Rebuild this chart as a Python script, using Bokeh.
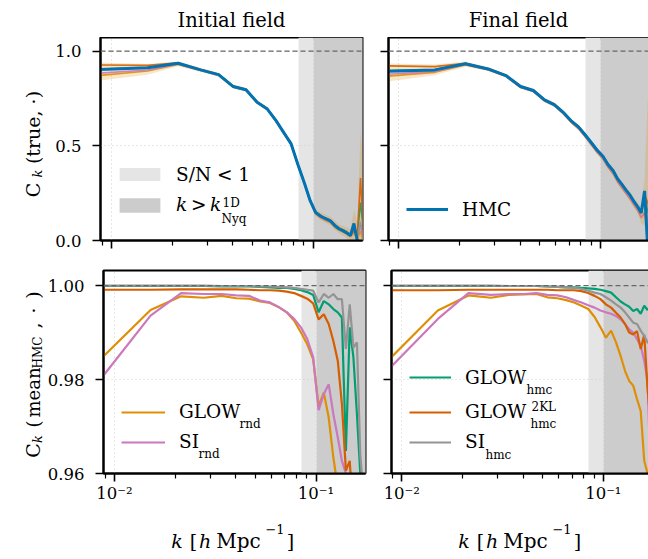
import math
from bokeh.plotting import figure
from bokeh.models import (Range1d, FixedTicker, PrintfTickFormatter, CustomJSTickFormatter,
                          Label, Span, Legend, LegendItem)
from bokeh.layouts import column, row
from bokeh.embed import file_html
from bokeh.resources import INLINE

FONT = "DejaVu Serif"

# ---------------- data ----------------
k = [0.0088, 0.0151, 0.0214, 0.0277, 0.0340, 0.0402, 0.0465, 0.0528, 0.0591, 0.0654,
     0.0716, 0.0779, 0.0842, 0.0905, 0.0968, 0.1030, 0.1093, 0.1156, 0.1219, 0.1282,
     0.1344, 0.1407, 0.1470, 0.1533, 0.1596, 0.1658, 0.1721, 0.1784]

k_sn = 0.0846    # S/N < 1 boundary
k_nyq = 0.1      # 1D Nyquist

# top-left: C_k(true, .) initial field
hmc_tl = [0.903, 0.912, 0.936, 0.901, 0.876, 0.813, 0.796, 0.730, 0.696, 0.634, 0.570, 0.510, 0.400, 0.305,
          0.210, 0.148, 0.128, 0.115, 0.104, 0.080, 0.062, 0.052, 0.040, 0.026, 0.090, 0.000, -0.010, -0.010]
glow_rnd_tl = [0.872, 0.895, 0.930, 0.898, 0.872, 0.810, 0.793, 0.727, 0.693, 0.630, 0.566, 0.505, 0.396, 0.300,
               0.205, 0.140, 0.118, 0.105, 0.095, 0.070, 0.055, 0.045, 0.035, 0.020, 0.040, 0.010, 0.050, -0.010]
si_rnd_tl = [0.884, 0.900, 0.932, 0.899, 0.874, 0.811, 0.794, 0.728, 0.694, 0.632, 0.568, 0.507, 0.398, 0.302,
             0.207, 0.143, 0.122, 0.108, 0.098, 0.074, 0.058, 0.048, 0.037, 0.022, 0.050, 0.020, 0.080, 0.000]
glow_hmc_tl = [0.906, 0.913, 0.936, 0.902, 0.877, 0.814, 0.797, 0.731, 0.697, 0.635, 0.571, 0.511, 0.401, 0.306,
               0.211, 0.150, 0.130, 0.117, 0.106, 0.082, 0.065, 0.056, 0.045, 0.032, 0.060, 0.030, 0.200, 0.050]
glow2kl_tl = [0.927, 0.925, 0.938, 0.903, 0.878, 0.815, 0.798, 0.732, 0.698, 0.636, 0.572, 0.512, 0.402, 0.307,
              0.212, 0.151, 0.131, 0.118, 0.107, 0.084, 0.066, 0.057, 0.046, 0.030, 0.050, 0.020, 0.330, 0.000]
si_hmc_tl = [0.905, 0.912, 0.936, 0.902, 0.877, 0.814, 0.797, 0.731, 0.697, 0.635, 0.571, 0.511, 0.401, 0.306,
             0.211, 0.150, 0.129, 0.116, 0.105, 0.082, 0.064, 0.054, 0.043, 0.030, 0.070, 0.020, 0.100, 0.000]
band_lo_tl = [0.845, 0.875, 0.920, 0.890, 0.866, 0.803, 0.786, 0.720, 0.686, 0.624, 0.560, 0.498, 0.388, 0.292,
              0.198, 0.130, 0.108, 0.093, 0.080, 0.055, 0.040, 0.025, 0.012, -0.010, 0.000, -0.050, -0.050, -0.050]
band_hi_tl = [0.940, 0.932, 0.945, 0.912, 0.886, 0.823, 0.806, 0.740, 0.706, 0.644, 0.580, 0.520, 0.410, 0.315,
              0.222, 0.165, 0.148, 0.135, 0.125, 0.105, 0.085, 0.078, 0.070, 0.060, 0.160, 0.100, 0.570, 0.400]

# top-right: C_k(true, .) final field
hmc_tr = [0.894, 0.901, 0.933, 0.906, 0.871, 0.813, 0.792, 0.743, 0.718, 0.677, 0.632, 0.600, 0.557, 0.515,
          0.475, 0.445, 0.400, 0.370, 0.325, 0.295, 0.265, 0.238, 0.205, 0.178, 0.145, 0.262, -0.050, -0.050]
glow_rnd_tr = [0.868, 0.888, 0.927, 0.902, 0.867, 0.808, 0.787, 0.737, 0.712, 0.670, 0.624, 0.590, 0.546, 0.503,
               0.462, 0.430, 0.385, 0.353, 0.308, 0.276, 0.247, 0.218, 0.186, 0.157, 0.120, 0.150, 0.100, 0.050]
si_rnd_tr = [0.878, 0.893, 0.929, 0.903, 0.868, 0.809, 0.788, 0.738, 0.713, 0.672, 0.626, 0.593, 0.549, 0.506,
             0.465, 0.434, 0.389, 0.357, 0.312, 0.280, 0.250, 0.222, 0.190, 0.162, 0.125, 0.140, 0.050, 0.000]
glow_hmc_tr = [0.897, 0.903, 0.934, 0.907, 0.872, 0.814, 0.793, 0.744, 0.719, 0.678, 0.633, 0.601, 0.558, 0.516,
               0.476, 0.446, 0.402, 0.372, 0.327, 0.297, 0.268, 0.240, 0.208, 0.180, 0.150, 0.230, 0.150, 0.100]
glow2kl_tr = [0.922, 0.918, 0.936, 0.908, 0.873, 0.815, 0.794, 0.745, 0.720, 0.679, 0.634, 0.602, 0.559, 0.517,
              0.477, 0.447, 0.403, 0.372, 0.327, 0.297, 0.267, 0.239, 0.206, 0.179, 0.148, 0.240, 0.200, 0.100]
si_hmc_tr = [0.896, 0.902, 0.934, 0.907, 0.872, 0.814, 0.793, 0.744, 0.719, 0.678, 0.633, 0.601, 0.558, 0.516,
             0.476, 0.446, 0.401, 0.371, 0.326, 0.296, 0.266, 0.239, 0.206, 0.179, 0.147, 0.230, 0.100, 0.000]
band_lo_tr = [0.840, 0.872, 0.918, 0.895, 0.860, 0.802, 0.781, 0.732, 0.706, 0.664, 0.618, 0.584, 0.540, 0.497,
              0.455, 0.424, 0.378, 0.346, 0.300, 0.268, 0.238, 0.208, 0.175, 0.145, 0.090, 0.080, -0.050, -0.050]
band_hi_tr = [0.935, 0.930, 0.945, 0.916, 0.882, 0.824, 0.803, 0.754, 0.729, 0.689, 0.644, 0.612, 0.570, 0.528,
              0.488, 0.458, 0.414, 0.384, 0.340, 0.310, 0.282, 0.256, 0.224, 0.198, 0.180, 0.330, 0.750, 0.750]

# bottom-left: C_k(mean_HMC, .) initial field
glow_rnd_bl = [0.9849, 0.9948, 0.9977, 0.9974, 0.9978, 0.9973, 0.9972, 0.9966, 0.9963, 0.9954, 0.9943, 0.9925,
               0.9900, 0.9875, 0.9843, 0.9744, 0.9772, 0.9719, 0.9634, 0.9570, 0.9550, 0.9540, 0.9530, 0.9520,
               0.9510, 0.9500, 0.9500, 0.9500]
si_rnd_bl = [0.9808, 0.9936, 0.9984, 0.9982, 0.9982, 0.9979, 0.9978, 0.9968, 0.9964, 0.9954, 0.9943, 0.9929,
             0.9911, 0.9886, 0.9847, 0.9735, 0.9769, 0.9790, 0.9726, 0.9677, 0.9627, 0.9600, 0.9560, 0.9550,
             0.9540, 0.9530, 0.9520, 0.9520]
glow_hmc_bl = [0.9999, 0.9999, 0.9999, 0.9999, 0.9998, 0.9998, 0.9998, 0.9997, 0.9996, 0.9995, 0.9995, 0.9993,
               0.9990, 0.9986, 0.9980, 0.9943, 0.9967, 0.9960, 0.9950, 0.9943, 0.9932, 0.9648, 0.9911, 0.9847,
               0.9726, 0.9600, 0.9500, 0.9500]
glow2kl_bl = [0.9991, 0.9991, 0.9992, 0.9992, 0.9992, 0.9992, 0.9991, 0.9990, 0.9990, 0.9989, 0.9987, 0.9984,
              0.9978, 0.9972, 0.9962, 0.9928, 0.9939, 0.9918, 0.9882, 0.9840, 0.9748, 0.9606, 0.9627, 0.9500,
              0.9500, 0.9500, 0.9500, 0.9500]
si_hmc_bl = [1.0000, 1.0000, 1.0000, 1.0000, 0.9999, 0.9999, 0.9999, 0.9998, 0.9998, 0.9997, 0.9996, 0.9995,
             0.9993, 0.9991, 0.9989, 0.9964, 0.9982, 0.9974, 0.9982, 0.9971, 0.9971, 0.9865, 0.9960, 0.9868,
             0.9879, 0.9641, 0.9550, 0.9500]

# bottom-right: C_k(mean_HMC, .) final field
glow_rnd_br = [0.9846, 0.9947, 0.9979, 0.9974, 0.9980, 0.9981, 0.9982, 0.9975, 0.9973, 0.9969, 0.9964, 0.9957,
               0.9950, 0.9933, 0.9911, 0.9889, 0.9904, 0.9879, 0.9850, 0.9818, 0.9797, 0.9787, 0.9758, 0.9733,
               0.9627, 0.9600, 0.9550, 0.9500]
si_rnd_br = [0.9826, 0.9929, 0.9984, 0.9980, 0.9982, 0.9982, 0.9984, 0.9980, 0.9979, 0.9975, 0.9969, 0.9964,
             0.9958, 0.9953, 0.9947, 0.9943, 0.9940, 0.9935, 0.9928, 0.9918, 0.9907, 0.9900, 0.9886, 0.9872,
             0.9840, 0.9797, 0.9580, 0.9550]
glow_hmc_br = [0.9999, 0.9999, 0.9999, 0.9999, 0.9999, 0.9999, 0.9999, 0.9998, 0.9997, 0.9996, 0.9996, 0.9995,
               0.9994, 0.9993, 0.9991, 0.9988, 0.9985, 0.9975, 0.9966, 0.9960, 0.9955, 0.9946, 0.9950, 0.9940,
               0.9957, 0.9948, 0.9958, 0.9960]
glow2kl_br = [0.9990, 0.9990, 0.9991, 0.9991, 0.9991, 0.9991, 0.9991, 0.9991, 0.9990, 0.9990, 0.9990, 0.9988,
              0.9984, 0.9978, 0.9971, 0.9960, 0.9953, 0.9942, 0.9932, 0.9918, 0.9900, 0.9896, 0.9903, 0.9865,
              0.9895, 0.9780, 0.9700, 0.9650]
si_hmc_br = [1.0000, 1.0000, 1.0000, 1.0000, 0.9999, 0.9999, 0.9999, 0.9998, 0.9997, 0.9996, 0.9995, 0.9993,
             0.9989, 0.9985, 0.9982, 0.9975, 0.9968, 0.9960, 0.9953, 0.9943, 0.9932, 0.9921, 0.9918, 0.9904,
             0.9893, 0.9879, 0.9875, 0.9870]

x_major = [0.01, 0.1]
x_minor = [0.009, 0.02, 0.03, 0.04, 0.05, 0.06, 0.07, 0.08, 0.09, 0.2]
y_top_ticks = [0.0, 0.5, 1.0]
y_bot_ticks = [0.96, 0.98, 1.00]

C_BLUE = "#0173B2"
C_ORANGE = "#DE8F05"
C_GREEN = "#029E73"
C_RED = "#D55E00"
C_PINK = "#CC78BC"
C_GRAY = "#949494"
C_SN = "#e5e5e5"
C_NYQ = "#cccccc"

# ---------------- geometry (page pixels) ----------------
FW_L, FW_R, FH = 262, 260, 203
YLAB_W = 44
TITLE_H = 37
XLAB_H = 46
TOP_ROW_H = 218
BOT_ROW_H = 258
TL = (100, 240)
TR = (388, 240)
BL = (100, 473)
BR = (388, 473)

SUP = CustomJSTickFormatter(code="""
const e = Math.round(Math.log10(tick));
const m = {"-": "\u207b", "0": "\u2070", "1": "\u00b9", "2": "\u00b2", "3": "\u00b3"};
let s = "";
for (const c of String(e)) { s += m[c]; }
return "10" + s;
""")


def hide_labels(ax):
    ax.major_label_text_font_size = "1px"
    ax.major_label_text_alpha = 0.0
    ax.major_label_text_color = None
    ax.major_label_standoff = 0


def make_fig(xr, yr, fw, mb, show_x, show_y, yticks, yfmt):
    p = figure(x_axis_type="log", x_range=Range1d(*xr), y_range=Range1d(*yr),
               frame_width=fw, frame_height=FH,
               min_border_left=mb[0], min_border_right=mb[1], min_border_top=mb[2], min_border_bottom=mb[3],
               toolbar_location=None, output_backend="svg")
    p.background_fill_color = "white"
    p.border_fill_color = "white"
    p.outline_line_color = "black"
    p.outline_line_width = 2
    for ax in (p.xaxis[0], p.yaxis[0]):
        ax.axis_line_width = 2
        ax.axis_line_color = "black"
        ax.major_tick_line_width = 1.6
        ax.major_tick_line_color = "black"
        ax.major_tick_in = 0
        ax.major_tick_out = 8
        ax.minor_tick_in = 0
        ax.minor_tick_out = 5
        ax.minor_tick_line_width = 1.2
        ax.minor_tick_line_color = "black"
        ax.major_label_text_font = FONT
        ax.major_label_text_font_size = "16.5px"
        ax.major_label_text_color = "black"
    p.xaxis.ticker = FixedTicker(ticks=x_major, minor_ticks=x_minor)
    p.yaxis.ticker = FixedTicker(ticks=yticks)
    p.yaxis.formatter = PrintfTickFormatter(format=yfmt)
    p.xaxis.formatter = SUP
    p.xaxis.major_label_standoff = 2
    p.yaxis.major_label_standoff = 11
    if not show_x:
        hide_labels(p.xaxis[0])
    if not show_y:
        hide_labels(p.yaxis[0])
    for g in (p.xgrid[0], p.ygrid[0]):
        g.grid_line_color = "#cfcfcf"
        g.grid_line_dash = "1 3"
        g.grid_line_width = 1
    sn = p.vstrip(x0=[k_sn], x1=[k_nyq], fill_color=C_SN, line_color=None, level="image")
    ny = p.vstrip(x0=[k_nyq], x1=[k[-1]], fill_color=C_NYQ, line_color=None, level="image")
    p.add_layout(Span(location=1.0, dimension="width", line_color="#666666",
                      line_dash="5 3", line_width=1.2))
    return p, sn, ny


def text_fig(w, h):
    f = figure(width=w, height=h, x_range=Range1d(0, w), y_range=Range1d(0, h), min_border=0,
               toolbar_location=None, output_backend="svg", x_axis_location=None, y_axis_location=None)
    f.outline_line_color = None
    f.grid.visible = False
    f.background_fill_color = "white"
    f.border_fill_color = "white"
    return f


def lab(p, x, y, text, size, style="normal", angle=0.0, align="left", baseline="alphabetic"):
    p.add_layout(Label(x=x, y=y, x_units="screen", y_units="screen", text=text,
                       text_font=FONT, text_font_size=f"{size}px", text_font_style=style,
                       text_color="black", angle=angle, text_align=align,
                       text_baseline=baseline))


def put(p, frame, X, Y, text, size, style="normal"):
    fl, fb = frame
    lab(p, X - fl, fb - Y, text, size, style)


def leg(p, frame, renderer, label, X0, Yc, gw, gh, H, standoff, style="normal", size=18.5):
    fl, fb = frame
    lg = Legend(items=[LegendItem(label=label, renderers=[renderer])],
                location=(X0 - fl, fb - Yc - H / 2.0),
                glyph_width=int(gw), glyph_height=int(gh), label_height=int(H), label_width=0,
                label_standoff=int(standoff), padding=0, margin=0, spacing=0,
                border_line_color=None, background_fill_alpha=0.0,
                label_text_font=FONT, label_text_font_size=f"{size}px",
                label_text_font_style=style, label_text_color="black")
    p.add_layout(lg)


xr_l = (0.00882, 0.176)
xr_r = (0.00889, 0.1734)

ML = 100 - YLAB_W
p_tl, sn_tl, ny_tl = make_fig(xr_l, (0.0, 1.072), FW_L, (ML, 13, 0, 15), False, True, y_top_ticks, "%.1f")
p_tr, _, _ = make_fig(xr_r, (0.0, 1.072), FW_R, (13, 0, 0, 15), False, False, y_top_ticks, "%.1f")
p_bl, _, _ = make_fig(xr_l, (0.96, 1.0032), FW_L, (ML, 13, 15, 40), True, True, y_bot_ticks, "%.2f")
p_br, _, _ = make_fig(xr_r, (0.96, 1.0032), FW_R, (13, 0, 15, 40), True, False, y_bot_ticks, "%.2f")

# ---- top panels ----
top_sets = [
    (p_tl, band_lo_tl, band_hi_tl, glow_rnd_tl, si_rnd_tl, glow_hmc_tl, glow2kl_tl, si_hmc_tl, hmc_tl),
    (p_tr, band_lo_tr, band_hi_tr, glow_rnd_tr, si_rnd_tr, glow_hmc_tr, glow2kl_tr, si_hmc_tr, hmc_tr),
]
hmc_renderers = []
for (p, lo, hi, g_r, s_r, g_h, g2, s_h, hm) in top_sets:
    p.varea(x=k, y1=lo, y2=hi, fill_color=C_ORANGE, fill_alpha=0.22)
    for ys, c in ((g_r, C_ORANGE), (s_r, C_PINK), (g_h, C_GREEN), (g2, C_RED), (s_h, C_GRAY)):
        p.line(k, ys, line_color=c, line_width=1.6, line_alpha=0.9)
    hmc_renderers.append(p.line(k, hm, line_color=C_BLUE, line_width=3))

# ---- bottom panels ----
bot_renderers = {}
for name, p, sets in (("bl", p_bl, (glow_rnd_bl, si_rnd_bl, glow_hmc_bl, glow2kl_bl, si_hmc_bl)),
                      ("br", p_br, (glow_rnd_br, si_rnd_br, glow_hmc_br, glow2kl_br, si_hmc_br))):
    rs = []
    for ys, c in zip(sets, (C_ORANGE, C_PINK, C_GREEN, C_RED, C_GRAY)):
        rs.append(p.line(k, ys, line_color=c, line_width=2.2))
    bot_renderers[name] = rs

# ---- legends ----
leg(p_tl, TL, sn_tl, "S/N < 1", 114, 174, 51, 16, 22, 11)
leg(p_tl, TL, ny_tl, "k\u2009>\u2009k", 114, 204.5, 51, 18, 22, 11, style="italic")
put(p_tl, TL, 222, 202, "1D", 12)
put(p_tl, TL, 221, 218, "Nyq", 12)

leg(p_tr, TR, hmc_renderers[1], "HMC", 406, 209, 42, 22, 22, 14)

rb = bot_renderers["bl"]
leg(p_bl, BL, rb[0], "GLOW", 118, 411.7, 44, 22, 22, 14)
leg(p_bl, BL, rb[1], "SI", 118, 441.7, 44, 22, 22, 14)
put(p_bl, BL, 236, 423, "rnd", 12)
put(p_bl, BL, 195, 453, "rnd", 12)

rb = bot_renderers["br"]
leg(p_br, BR, rb[2], "GLOW", 406, 377.3, 42, 22, 22, 14)
leg(p_br, BR, rb[3], "GLOW", 406, 411.7, 42, 22, 22, 14)
leg(p_br, BR, rb[4], "SI", 406, 441.7, 42, 22, 22, 14)
put(p_br, BR, 523, 389, "hmc", 12)
put(p_br, BR, 528, 406, "2KL", 12)
put(p_br, BR, 527, 423, "hmc", 12)
put(p_br, BR, 482, 454, "hmc", 12)

# ---- text strips ----
f_title = text_fig(648, TITLE_H)
lab(f_title, 231, TITLE_H - 20, "Initial field", 19.5, align="center")
lab(f_title, 518, TITLE_H - 20, "Final field", 19.5, align="center")

R = math.pi / 2
XM, XS = 32.6, 37.0          # centre lines of main text and subscripts


def vpiece(f, fb, Yc, text, size, x, style="normal"):
    # fb: page y of the strip's frame bottom (aligned with the neighbouring panel frame)
    lab(f, x, fb - Yc, text, size, style=style, angle=R, align="center", baseline="middle")


f_yt = text_fig(YLAB_W, TOP_ROW_H)
fb = TL[1]
vpiece(f_yt, fb, 189.5, "C", 19, XM)
vpiece(f_yt, fb, 173.0, "k", 13, XS, style="italic")
vpiece(f_yt, fb, 127.0, "(true, \u00b7)", 19, XM)

f_yb = text_fig(YLAB_W, BOT_ROW_H)
fb = BL[1]
vpiece(f_yb, fb, 450.0, "C", 19, XM)
vpiece(f_yb, fb, 438.5, "k", 13, XS, style="italic")
vpiece(f_yb, fb, 423.5, "(", 19, XM)
vpiece(f_yb, fb, 392.0, "mean", 18, XM)
vpiece(f_yb, fb, 352.0, "HMC", 12, XS)
vpiece(f_yb, fb, 325.0, ",", 19, XM)
vpiece(f_yb, fb, 310.0, "\u00b7", 19, XM)
vpiece(f_yb, fb, 294.5, ")", 19, XM)

f_x = text_fig(648, XLAB_H)
yb = TITLE_H + TOP_ROW_H + BOT_ROW_H + XLAB_H
for dx in (0.0, 287.0):
    lab(f_x, 176.5 + dx, yb - 540, "k", 19, style="italic", align="center")
    lab(f_x, 193.0 + dx, yb - 540, "[", 19, align="center")
    lab(f_x, 204.5 + dx, yb - 540, "h", 19, style="italic", align="center")
    lab(f_x, 238.0 + dx, yb - 540, "Mpc", 20, align="center")
    lab(f_x, 274.5 + dx, yb - 528, "\u22121", 13, align="center")
    lab(f_x, 290.0 + dx, yb - 540, "]", 19, align="center")

layout = column(f_title,
                row(f_yt, p_tl, p_tr),
                row(f_yb, p_bl, p_br),
                f_x)
open("out.html", "w").write(file_html(layout, INLINE))
